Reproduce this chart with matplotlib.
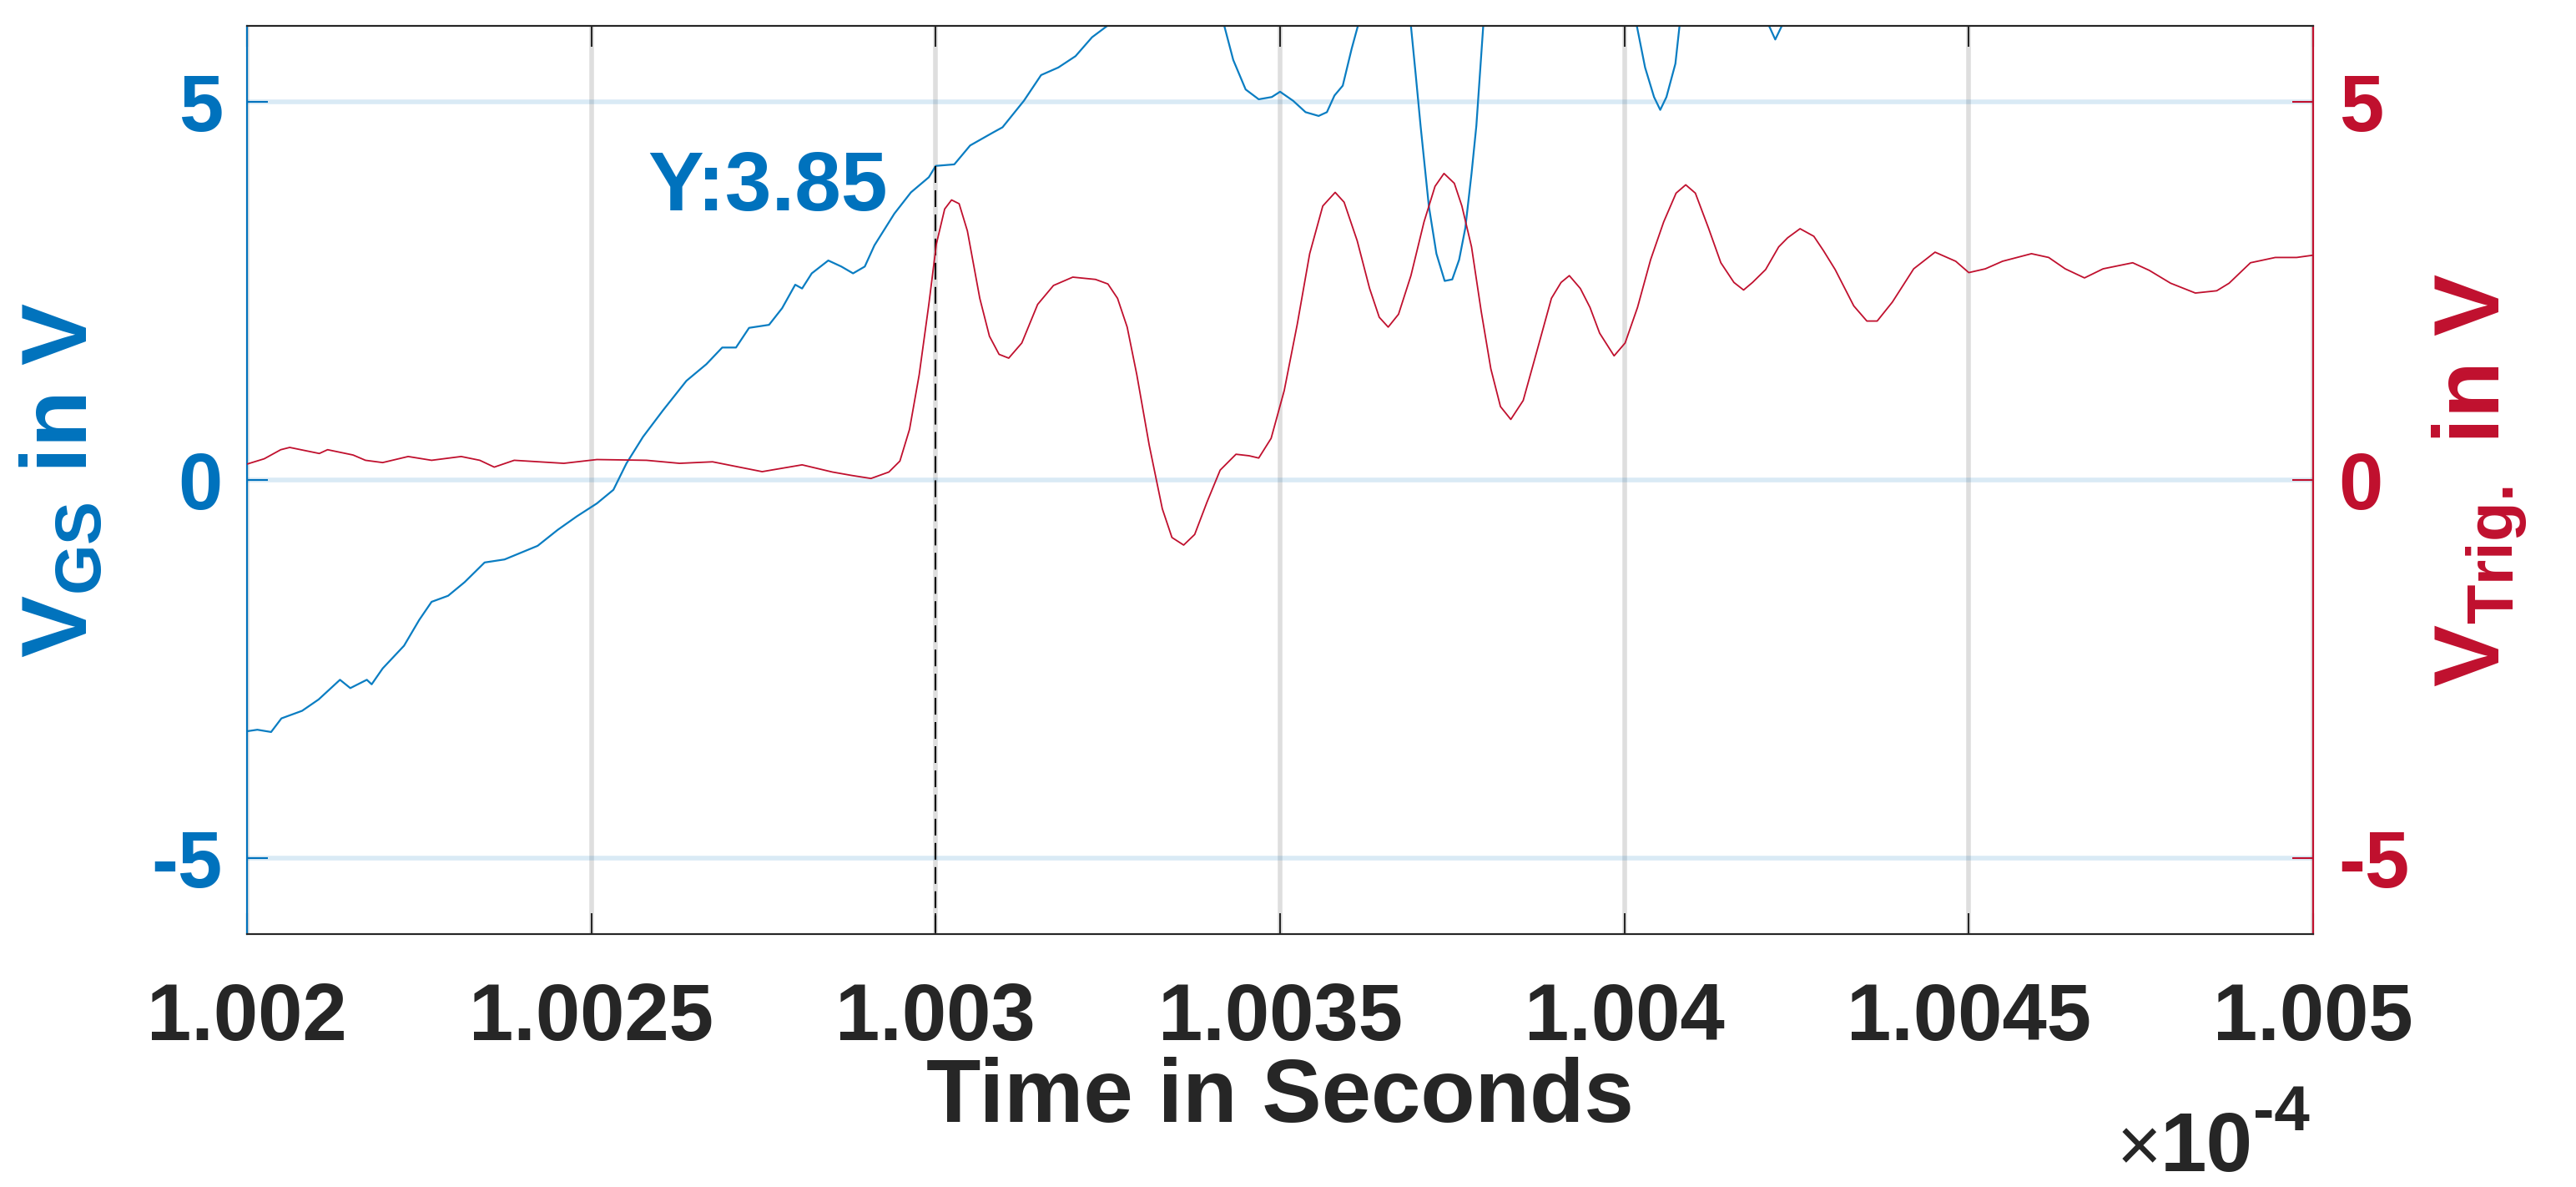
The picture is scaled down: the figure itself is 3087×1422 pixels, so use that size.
import matplotlib
matplotlib.use("Agg")
import matplotlib.pyplot as plt

plt.rcParams['font.family'] = ['Liberation Sans', 'DejaVu Sans']
plt.rcParams['font.weight'] = 'bold'
plt.rcParams['mathtext.fontset'] = 'custom'
plt.rcParams['mathtext.rm'] = 'Liberation Sans:bold'
plt.rcParams['mathtext.bf'] = 'Liberation Sans:bold'
plt.rcParams['mathtext.it'] = 'Liberation Sans:bold'
plt.rcParams['axes.unicode_minus'] = False

# ---------------- data (time in units of 1e-4 s) ----------------
t_vgs = [1.002, 1.002015, 1.002035, 1.00205, 1.00208, 1.002104, 1.002135, 1.00215, 1.002174,
         1.002181, 1.002197, 1.002228, 1.00225, 1.002268, 1.002292, 1.002316, 1.002345,
         1.002374, 1.002398, 1.002422, 1.002451, 1.002479, 1.002508, 1.002532, 1.002551,
         1.002575, 1.002604, 1.002638, 1.002667, 1.00269, 1.00271, 1.002729, 1.002758,
         1.002777, 1.002796, 1.002806, 1.00282, 1.002844, 1.002863, 1.00288, 1.002897,
         1.002911, 1.00294, 1.002964, 1.00299, 1.003, 1.003027, 1.00305, 1.003083,
         1.003097, 1.003128, 1.003153, 1.003178, 1.003203, 1.003227, 1.003252, 1.00328,
         1.00333, 1.00338, 1.003419, 1.003432, 1.00345, 1.003469, 1.003488, 1.0035,
         1.003519, 1.003537, 1.003556, 1.003568, 1.003579, 1.003591, 1.003604, 1.003613,
         1.00365, 1.00369, 1.003697, 1.003704, 1.003716, 1.003727, 1.003739, 1.00375,
         1.00376, 1.003769, 1.003778, 1.003785, 1.003795, 1.0039, 1.004018, 1.00403,
         1.004043, 1.004052, 1.004061, 1.004074, 1.00408, 1.00415, 1.00421, 1.004219,
         1.004228, 1.00426, 1.0045, 1.005]
v_gs = [-3.32, -3.30, -3.33, -3.15, -3.05, -2.90, -2.64, -2.75, -2.64,
        -2.70, -2.49, -2.19, -1.85, -1.61, -1.53, -1.35, -1.09,
        -1.05, -0.96, -0.87, -0.66, -0.48, -0.31, -0.13, 0.22,
        0.57, 0.92, 1.31, 1.53, 1.75, 1.75, 2.01, 2.05,
        2.27, 2.58, 2.53, 2.73, 2.90, 2.82, 2.73, 2.82,
        3.10, 3.52, 3.80, 4.00, 4.15, 4.17, 4.42, 4.59,
        4.66, 5.01, 5.35, 5.45, 5.60, 5.85, 6.02, 6.4,
        6.8, 6.5, 6.0, 5.55, 5.16, 5.03, 5.06, 5.13,
        5.01, 4.86, 4.81, 4.86, 5.08, 5.21, 5.70, 6.0,
        6.5, 6.0, 5.35, 4.68, 3.62, 2.99, 2.63, 2.65,
        2.91, 3.33, 4.05, 4.68, 6.0, 7.0, 6.0, 5.45,
        5.06, 4.89, 5.06, 5.50, 6.0, 6.5, 6.0, 5.82,
        5.99, 6.4, 6.6, 6.6]

t_trig = [1.002, 1.002025, 1.002049, 1.002062, 1.002105, 1.002117, 1.002154, 1.002172, 1.002197,
          1.002234, 1.002268, 1.002311, 1.002338, 1.002359, 1.002388, 1.00246, 1.002508,
          1.00258, 1.002628, 1.002676, 1.002748, 1.002806, 1.00285, 1.002878, 1.002906,
          1.002932, 1.002948, 1.002962, 1.002976, 1.00299, 1.003001, 1.003013, 1.003023,
          1.003034, 1.003046, 1.003064, 1.003078, 1.003092, 1.003106, 1.003125, 1.003148,
          1.003171, 1.003199, 1.003232, 1.00325, 1.003264, 1.003278, 1.003292, 1.00331,
          1.003329, 1.003343, 1.00336, 1.003376, 1.003394, 1.003413, 1.003436, 1.003455,
          1.003469, 1.003487, 1.003506, 1.003525, 1.003543, 1.003562, 1.00358, 1.003593,
          1.003612, 1.00363, 1.003644, 1.003657, 1.003672, 1.00369, 1.003709, 1.003725,
          1.003738, 1.003753, 1.003764, 1.003778, 1.003792, 1.003806, 1.00382, 1.003835,
          1.003853, 1.003871, 1.003894, 1.003908, 1.00392, 1.003936, 1.00395, 1.003964,
          1.003985, 1.004001, 1.004019, 1.004038, 1.004057, 1.004075, 1.004089, 1.004103,
          1.004122, 1.00414, 1.004159, 1.004173, 1.004186, 1.004205, 1.004224, 1.004237,
          1.004255, 1.004275, 1.004289, 1.004306, 1.004333, 1.004352, 1.004367, 1.004389,
          1.00442, 1.004451, 1.004481, 1.0045, 1.004524, 1.004549, 1.004591, 1.004616,
          1.00464, 1.004668, 1.004695, 1.004738, 1.004762, 1.004793, 1.004829, 1.00486,
          1.004878, 1.004909, 1.004945, 1.004976, 1.005]
v_trig = [0.21, 0.28, 0.40, 0.43, 0.35, 0.40, 0.33, 0.26, 0.23,
          0.31, 0.26, 0.31, 0.26, 0.17, 0.26, 0.22, 0.27,
          0.26, 0.22, 0.24, 0.11, 0.20, 0.105, 0.06, 0.02,
          0.105, 0.25, 0.67, 1.39, 2.32, 3.12, 3.58, 3.70,
          3.65, 3.29, 2.40, 1.90, 1.66, 1.61, 1.81, 2.32,
          2.57, 2.68, 2.65, 2.59, 2.40, 2.02, 1.39, 0.46,
          -0.38, -0.76, -0.86, -0.72, -0.29, 0.13, 0.34, 0.32,
          0.29, 0.55, 1.18, 2.06, 2.99, 3.62, 3.80, 3.67,
          3.16, 2.53, 2.15, 2.02, 2.19, 2.70, 3.41, 3.88,
          4.05, 3.92, 3.62, 3.08, 2.23, 1.47, 0.97, 0.80,
          1.05, 1.64, 2.40, 2.61, 2.70, 2.53, 2.28, 1.94,
          1.64, 1.81, 2.28, 2.91, 3.41, 3.79, 3.90, 3.79,
          3.33, 2.87, 2.61, 2.51, 2.61, 2.78, 3.08, 3.20,
          3.32, 3.22, 3.03, 2.78, 2.30, 2.10, 2.10, 2.35,
          2.79, 3.01, 2.89, 2.74, 2.79, 2.89, 2.99, 2.94,
          2.79, 2.67, 2.79, 2.87, 2.77, 2.60, 2.47, 2.50,
          2.60, 2.87, 2.94, 2.94, 2.97]

x_ticks = [1.002, 1.0025, 1.003, 1.0035, 1.004, 1.0045, 1.005]
x_tick_labels = ['1.002', '1.0025', '1.003', '1.0035', '1.004', '1.0045', '1.005']
y_ticks = [-5, 0, 5]
y_tick_labels = ['-5', '0', '5']

cursor_x = 1.003
cursor_label = 'Y:3.85'

# ---------------- style ----------------
BLUE = '#0072BD'
BLUE_LINE = '#0A7DC2'
RED = '#C0102E'
DARK = '#262626'

W, H = 3087, 1422
fig = plt.figure(figsize=(W / 100, H / 100), dpi=100)
L, R, T, B = 296, 2772, 31, 1119
ax = fig.add_axes([L / W, 1 - B / H, (R - L) / W, (B - T) / H])
ax2 = ax.twinx()

ax.plot(t_vgs, v_gs, color=BLUE_LINE, lw=1.6, zorder=3)
ax2.plot(t_trig, v_trig, color=RED, lw=1.3, zorder=3)

# data cursor: dashed drop line from the VGS trace at cursor_x down to the axis
cursor_top = v_gs[t_vgs.index(cursor_x)]
ax.plot([cursor_x, cursor_x], [cursor_top, -6], color='black', lw=1.5,
        dashes=(9.6, 4.3), zorder=4)
ax.text(1.00293, 3.56, cursor_label, color=BLUE, fontsize=72,
        fontweight='bold', ha='right', va='baseline', zorder=5)

for a in (ax, ax2):
    a.set_xlim(1.002, 1.005)
    a.set_ylim(-6, 6)
    a.set_yticks(y_ticks)
    a.set_yticklabels(y_tick_labels)

ax.set_xticks(x_ticks)
ax.set_xticklabels(x_tick_labels)

ax.set_axisbelow(True)
ax.xaxis.grid(True, color=(0.15, 0.15, 0.15), alpha=0.15, lw=4)
ax.yaxis.grid(True, color=BLUE, alpha=0.15, lw=4)

ax.tick_params(axis='x', direction='in', length=18, width=1.5, colors=DARK,
               labelsize=69, pad=41, top=True, bottom=True)
ax.tick_params(axis='y', direction='in', length=18, width=1.5, colors=BLUE,
               labelsize=69, pad=21)
ax2.tick_params(axis='y', direction='in', length=18, width=1.5, colors=RED,
                labelsize=69, pad=22)

for a in (ax, ax2):
    a.spines['top'].set_color(DARK)
    a.spines['bottom'].set_color(DARK)
    for s in a.spines.values():
        s.set_linewidth(1.5)
ax.spines['left'].set_color(BLUE)
ax2.spines['left'].set_color(BLUE)
ax.spines['right'].set_color(RED)
ax2.spines['right'].set_color(RED)

ax.set_xlabel('Time in Seconds', fontsize=77, fontweight='bold', color=DARK, labelpad=0)
ax.set_ylabel(r'$\mathbf{V_{GS}}$ in V', fontsize=80, fontweight='bold', color=BLUE)
ax2.set_ylabel(r'$\mathbf{V_{Trig.}}$ in V', fontsize=80, fontweight='bold', color=RED)
ax.yaxis.set_label_coords((128 - L) / (R - L), 0.5)
ax2.yaxis.set_label_coords((2912 - L) / (R - L), 0.5)

# axis exponent (x10^-4)
fig.text(2590 / W, 1 - 1403 / H, '\u00d7', fontsize=66, fontweight='normal',
         color=DARK, ha='right', va='baseline')
fig.text(2700 / W, 1 - 1403 / H, '10', fontsize=72, fontweight='bold',
         color=DARK, ha='right', va='baseline')
fig.text(2768 / W, 1 - 1354 / H, '-4', fontsize=55, fontweight='bold',
         color=DARK, ha='right', va='baseline')

fig.savefig('out.png', dpi=100, facecolor='white')
